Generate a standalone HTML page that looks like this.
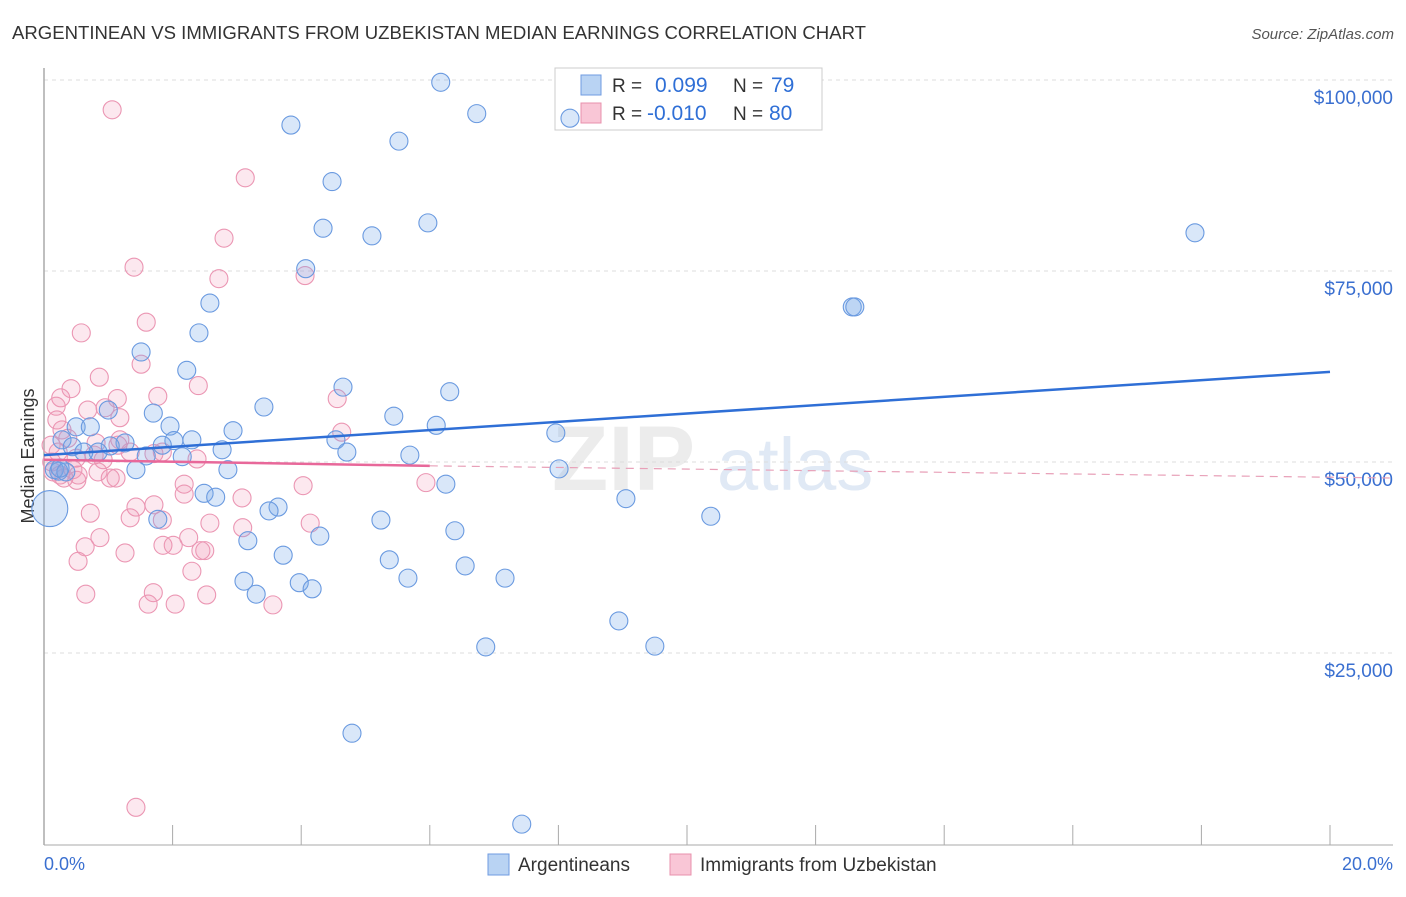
<!DOCTYPE html>
<html><head><meta charset="utf-8"><style>
body{margin:0;background:#fff;font-family:"Liberation Sans",sans-serif}
svg text{font-family:"Liberation Sans",sans-serif}
</style></head><body>
<svg id="chart" width="1406" height="892" viewBox="0 0 1406 892" xmlns="http://www.w3.org/2000/svg">
<text x="12" y="39" font-size="18" fill="#333" textLength="854" lengthAdjust="spacingAndGlyphs">ARGENTINEAN VS IMMIGRANTS FROM UZBEKISTAN MEDIAN EARNINGS CORRELATION CHART</text>
<text x="1394" y="39" font-size="15" fill="#555" text-anchor="end" font-style="italic">Source: ZipAtlas.com</text>
<g>
<text x="552" y="490" font-size="92" fill="#ececec" font-family="Liberation Serif" font-weight="bold">ZIP</text>
<text x="717" y="490" font-size="74" fill="#e0e9f5">atlas</text>
</g>
<g id="grid"></g>
<line x1="44" y1="68" x2="44" y2="845" stroke="#aaa" stroke-width="1.5"/>
<line x1="44" y1="845" x2="1393" y2="845" stroke="#aaa" stroke-width="1"/>
<g id="xticks"></g>
<g id="ylabels"></g>
<text transform="translate(34,456) rotate(-90)" font-size="18" fill="#333" text-anchor="middle">Median Earnings</text>
<text x="44" y="870" font-size="18" fill="#3a6fd0">0.0%</text>
<text x="1393" y="870" font-size="18" fill="#3a6fd0" text-anchor="end">20.0%</text>
<g>
<rect x="555" y="68" width="267" height="62" fill="#fff" stroke="#ccc"/>
<rect x="581" y="75" width="20" height="20" fill="#b9d3f3" stroke="#6f9be0"/>
<rect x="581" y="103" width="20" height="20" fill="#f9c6d6" stroke="#e890ac"/>
<text x="612" y="92" font-size="19" fill="#333">R = </text><text x="655" y="92" font-size="21" fill="#2f6fd6">0.099</text>
<text x="733" y="92" font-size="19" fill="#333">N = </text><text x="771" y="92" font-size="21" fill="#2f6fd6">79</text>
<text x="612" y="120" font-size="19" fill="#333">R = </text><text x="647" y="120" font-size="21" fill="#2f6fd6">-0.010</text>
<text x="733" y="120" font-size="19" fill="#333">N = </text><text x="769" y="120" font-size="21" fill="#2f6fd6">80</text>
</g>
<g id="pinkPts"></g>
<g id="bluePts"></g>
<g id="trends"></g>
<g>
<rect x="488" y="854" width="21" height="21" fill="#b9d3f3" stroke="#6f9be0"/>
<text x="518" y="871" font-size="19" fill="#333">Argentineans</text>
<rect x="670" y="854" width="21" height="21" fill="#f9c6d6" stroke="#e890ac"/>
<text x="700" y="871" font-size="19" fill="#333">Immigrants from Uzbekistan</text>
</g>
</svg>
<script>
const yTicks=[25000,50000,75000,100000];
const yTickLabels=["$25,000","$50,000","$75,000","$100,000"];
const xTickVals=[0,2,4,6,8,10,12,14,16,18,20];
const blueX=[6.17,3.84,6.73,5.52,8.18,4.48,4.34,5.10,5.97,4.07,2.58,2.41,1.51,2.22,4.65,6.31,3.42,5.44,1.70,6.10,1.96,2.94,7.96,4.54,0.50,0.72,1.00,1.26,1.03,0.28,0.44,2.02,2.30,1.84,4.71,5.69,2.77,2.15,1.59,0.84,0.62,1.43,2.86,8.01,0.23,0.16,6.25,2.49,2.67,9.05,10.37,3.64,3.50,1.77,5.24,6.39,4.29,3.17,3.72,5.37,6.55,5.66,7.17,3.11,3.97,4.17,3.30,8.94,6.87,9.50,4.79,7.43,17.90,12.57,12.61,0.34,0.25,0.09];
const blueY=[99700,94100,95600,92000,95000,86700,80600,79600,81300,75300,70800,66900,64400,62000,59800,59200,57200,56000,56400,54800,54700,54100,53800,52900,54600,54600,56800,52500,52100,52900,52000,52800,52900,52200,51300,50900,51600,50700,50800,51300,51300,49000,49000,49100,48800,49000,47100,45900,45400,45200,42900,44100,43600,42500,42400,41000,40300,39700,37800,37200,36400,34800,34800,34400,34200,33400,32700,29200,25800,25900,14500,2600,80000,70300,70300,48700,49200,43900];
const blueR=[9,9,9,9,9,9,9,9,9,9,9,9,9,9,9,9,9,9,9,9,9,9,9,9,9,9,9,9,9,9,9,9,9,9,9,9,9,9,9,9,9,9,9,9,9,9,9,9,9,9,9,9,9,9,9,9,9,9,9,9,9,9,9,9,9,9,9,9,9,9,9,9,9,9,9,9,9,18];
const pinkX=[1.06,3.13,2.80,1.40,2.72,4.06,1.59,0.58,1.51,0.86,0.42,0.26,2.40,1.77,1.14,0.19,0.95,0.68,1.18,4.56,0.28,0.37,0.81,1.15,0.50,0.92,1.34,1.84,2.38,4.63,0.11,0.22,0.14,0.31,0.45,0.51,1.03,0.84,2.18,2.18,1.43,3.08,4.03,5.94,0.72,1.34,1.71,1.84,2.58,3.09,4.14,0.87,0.64,2.25,1.85,2.01,2.50,2.44,1.26,0.53,2.30,0.65,1.70,1.62,2.04,2.53,3.56,1.43,0.20,1.18,0.53,1.12,0.25,0.12,0.78,1.71];
const pinkY=[96100,87200,79300,75500,74000,74400,68300,66900,62800,61100,59600,58400,60000,58600,58300,57300,57100,56800,55800,58300,54200,53100,52500,52200,50500,50300,51300,51300,50400,53900,52200,51300,48700,47900,49000,47600,47900,48700,47100,45800,44100,45300,46900,47300,43300,42700,44400,42400,42000,41400,42000,40100,38900,40100,39100,39100,38400,38400,38100,37000,35700,32700,32900,31400,31400,32600,31300,4800,55500,52900,48300,47900,48300,50000,50900,51100];
const blueTrendX=[0,20];
const blueTrendY=[50900,61800];
const pinkTrendX=[0,6,21];
const pinkTrendY=[50300,49500,47900];

const NS="http://www.w3.org/2000/svg";
const X0=44,X1=1330,Y0=844,Y1=80;
function sx(v){return X0+(v/20)*(X1-X0);}
function sy(v){return Y0-(v/100000)*(Y0-Y1);}
function mk(tag,attrs,parent){const e=document.createElementNS(NS,tag);for(const k in attrs)e.setAttribute(k,attrs[k]);parent.appendChild(e);return e;}

const grid=document.getElementById('grid');
const yl=document.getElementById('ylabels');
yTicks.forEach((t,i)=>{
  const l=mk('line',{x1:44,x2:1393,y1:sy(t),y2:sy(t),stroke:'#ddd','stroke-dasharray':'4,4'},grid);
  
  
  const tx=mk('text',{x:1393,y:sy(t)+24,'font-size':19,fill:'#3a6fd0','text-anchor':'end'},yl);
  tx.textContent=yTickLabels[i];
  
  
});
const xt=document.getElementById('xticks');
xTickVals.forEach(v=>{
  const l=mk('line',{x1:sx(v),x2:sx(v),y1:825,y2:845,stroke:'#aaa'},xt);
  
  
});
const pg=document.getElementById('pinkPts');
pinkX.forEach((x,i)=>{
  const c=mk('circle',{cx:sx(x),cy:sy(pinkY[i]),r:9,fill:'rgba(242,150,182,0.22)',stroke:'#eb96b3','stroke-width':1.1},pg);
  
  
});
const bg=document.getElementById('bluePts');
blueX.forEach((x,i)=>{
  const c=mk('circle',{cx:sx(x),cy:sy(blueY[i]),r:blueR[i],fill:'rgba(120,168,232,0.28)',stroke:'#6a9ae0','stroke-width':1.1},bg);
  
  
});
const tr=document.getElementById('trends');
const bl=mk('line',{x1:sx(blueTrendX[0]),y1:sy(blueTrendY[0]),x2:sx(blueTrendX[1]),y2:sy(blueTrendY[1]),stroke:'#2f6fd6','stroke-width':2.5},tr);


const pl=mk('line',{x1:sx(pinkTrendX[0]),y1:sy(pinkTrendY[0]),x2:sx(pinkTrendX[1]),y2:sy(pinkTrendY[1]),stroke:'#e8689a','stroke-width':2.5},tr);


const pd=mk('line',{x1:sx(pinkTrendX[1]),y1:sy(pinkTrendY[1]),x2:sx(pinkTrendX[2]),y2:sy(pinkTrendY[2]),stroke:'#e8a0b8','stroke-width':1.2,'stroke-dasharray':'8,6'},tr);


</script>
</body></html>
